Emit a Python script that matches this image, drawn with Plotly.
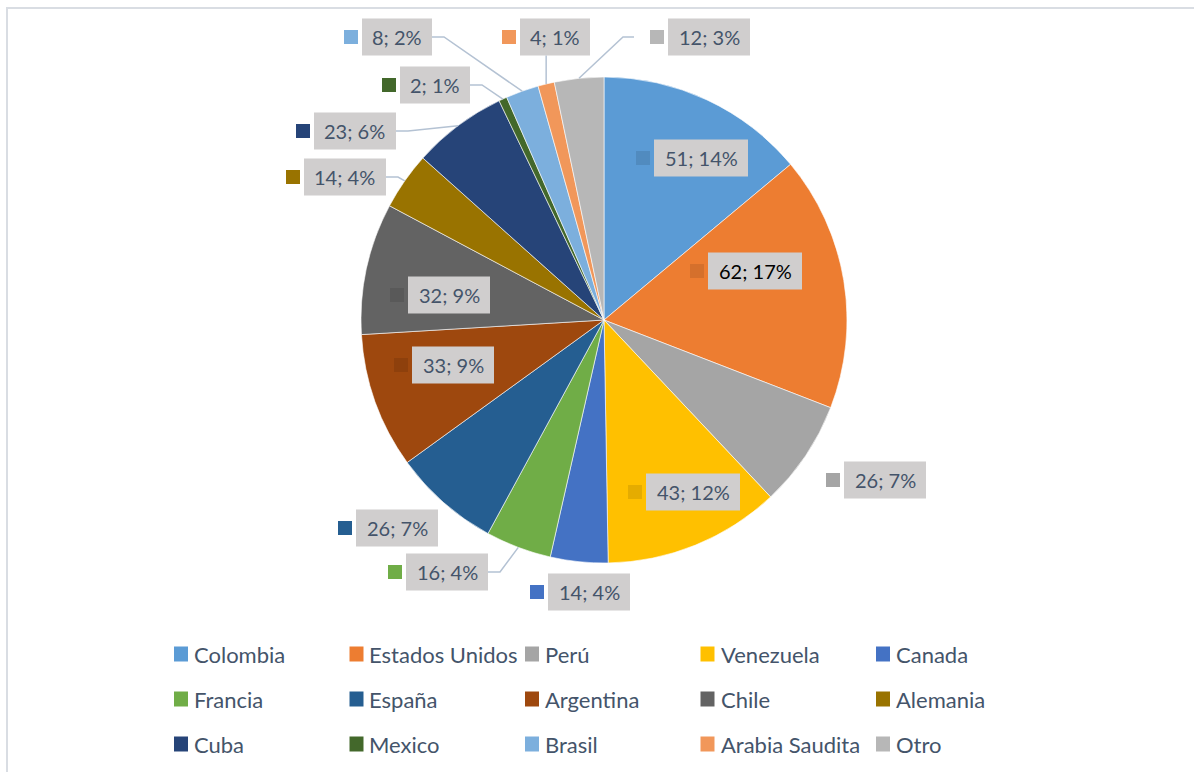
import math
import plotly.graph_objects as go

# ---------------- data ----------------
countries = ["Colombia", "Estados Unidos", "Perú", "Venezuela", "Canada",
             "Francia", "España", "Argentina", "Chile", "Alemania",
             "Cuba", "Mexico", "Brasil", "Arabia Saudita", "Otro"]
values = [51, 62, 26, 43, 14, 16, 26, 33, 32, 14, 23, 2, 8, 4, 12]

# ---------------- styles / layout ----------------
colors = ["#5B9BD5", "#ED7D31", "#A5A5A5", "#FFC000", "#4472C4",
          "#70AD47", "#255E91", "#9E480E", "#636363", "#997300",
          "#264478", "#43682B", "#7CAFDD", "#F1975A", "#B7B7B7"]

W, H = 1194, 772
CX, CY, R = 604, 320, 243          # pie centre / radius in pixels
FONT = "Lato"
TEXT_COLOR = "#44546A"
BOX_COLOR = "#D0CECE"
LEADER_COLOR = "#B4C2D3"

# label box anchor (left edge, vertical centre) as offsets from pie centre
label_offsets = [(50, -162), (104, -49), (240, 160), (42, 172), (-56, 272),
                 (-198, 252), (-248, 208), (-192, 45), (-196, -25), (-300, -143),
                 (-290, -189), (-204, -235), (-242, -283), (-84, -283), (64, -283)]
# leader line style per label
leaders = [None, None, None, None, None,
           "right", None, None, None, "right",
           "right", "right", "right", "bottom", "left"]
label_text_colors = [TEXT_COLOR, "#000000"] + [TEXT_COLOR] * 13


def px(x):
    return x / W


def py(y):
    return 1 - y / H


def shade(hex_color, f):
    h = hex_color.lstrip("#")
    r, g, b = (int(h[k:k + 2], 16) for k in (0, 2, 4))
    return "#%02X%02X%02X" % (int(r * f), int(g * f), int(b * f))


fig = go.Figure()
fig.add_trace(go.Pie(
    labels=countries, values=values, sort=False, direction="clockwise",
    rotation=0, textinfo="none", hoverinfo="label+value+percent",
    marker=dict(colors=colors, line=dict(color="white", width=0.6)),
    domain=dict(x=[px(CX - R), px(CX + R)], y=[py(CY + R), py(CY - R)]),
    showlegend=False,
))

shapes = []
annotations = []

# chart border (top & left visible)
shapes.append(dict(type="rect", xref="paper", yref="paper",
                   x0=px(7), x1=px(1210), y0=py(790), y1=py(8),
                   line=dict(color="#D9DDE3", width=2), fillcolor="rgba(0,0,0,0)",
                   layer="below"))

total = sum(values)
cum = 0
for i, (name, v) in enumerate(zip(countries, values)):
    mid = (cum + v / 2) / total * 2 * math.pi
    cum += v
    pct = round(100 * v / total)
    txt = f"{v}; {pct}%"
    bw = 12 * len(txt) + 10
    bh = 37
    dx, dy = label_offsets[i]
    bl = CX + dx
    bc = CY + dy
    inside = math.hypot(dx, dy) < R
    # label box
    shapes.append(dict(type="rect", xref="paper", yref="paper",
                       x0=px(bl), x1=px(bl + bw), y0=py(bc + bh / 2), y1=py(bc - bh / 2),
                       fillcolor=BOX_COLOR, line=dict(width=0)))
    # key square
    shapes.append(dict(type="rect", xref="paper", yref="paper",
                       x0=px(bl - 18), x1=px(bl - 4), y0=py(bc + 7), y1=py(bc - 7),
                       fillcolor=shade(colors[i], 0.9) if inside else colors[i],
                       line=dict(width=0)))
    annotations.append(dict(x=px(bl + bw / 2), y=py(bc), xref="paper", yref="paper",
                            text=txt, showarrow=False, xanchor="center", yanchor="middle",
                            font=dict(family=FONT, size=20, color=label_text_colors[i])))
    # leader lines
    ex = CX + R * math.sin(mid)
    ey = CY - R * math.cos(mid)
    kind = leaders[i]
    if kind == "right":
        sx = bl + bw
        pts = [(sx, bc), (sx + 12, bc), (ex, ey)]
    elif kind == "left":
        sx = bl - 34
        pts = [(sx, bc), (sx - 11, bc), (ex, ey)]
    elif kind == "bottom":
        pts = [(ex, bc + bh / 2), (ex, ey)]
    else:
        pts = None
    if pts:
        path = "M " + " L ".join(f"{px(x)},{py(y)}" for x, y in pts)
        shapes.append(dict(type="path", xref="paper", yref="paper", path=path,
                           line=dict(color=LEADER_COLOR, width=1.5)))

# manual legend: 5 columns x 3 rows
for i, name in enumerate(countries):
    col, row = i % 5, i // 5
    mx = 174 + 175.5 * col
    my = 654 + 45 * row
    shapes.append(dict(type="rect", xref="paper", yref="paper",
                       x0=px(mx), x1=px(mx + 14), y0=py(my + 7.5), y1=py(my - 7.5),
                       fillcolor=colors[i], line=dict(width=0)))
    annotations.append(dict(x=px(mx + 18), y=py(my), xref="paper", yref="paper",
                            text=name, showarrow=False, xanchor="left", yanchor="middle",
                            font=dict(family=FONT, size=22, color=TEXT_COLOR)))

fig.update_layout(
    width=W, height=H,
    margin=dict(l=0, r=0, t=0, b=0),
    paper_bgcolor="white", plot_bgcolor="white",
    shapes=shapes, annotations=annotations,
    showlegend=False,
)

fig.write_html("out.html", config={"displayModeBar": False},
               post_script="document.body.style.margin='0';document.body.style.overflow='hidden';")
